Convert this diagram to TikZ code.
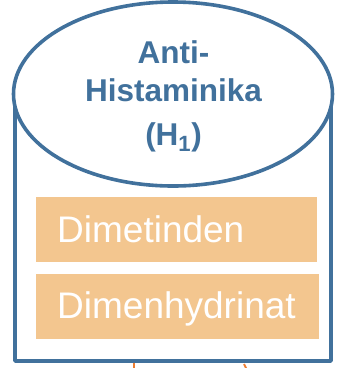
\documentclass[tikz,border=0pt]{standalone}
\usepackage{fontspec}
\usetikzlibrary{shapes.geometric}
\setmainfont{Liberation Sans}
\definecolor{cylblue}{HTML}{41719C}
\definecolor{boxorange}{HTML}{F3C68F}
\definecolor{arrorange}{HTML}{ED7D31}
\begin{document}
\begin{tikzpicture}[x=1pt,y=-1pt,
  outline/.style={draw=cylblue,line width=3.6pt},
  drugbox/.style={fill=boxorange,draw=none},
  drugtext/.style={anchor=base west,inner sep=0pt,text=white,font=\fontsize{37}{44}\selectfont},
  titletext/.style={anchor=base,inner sep=0pt,text=cylblue,font=\bfseries\fontsize{31.5}{38}\selectfont}]
\useasboundingbox (0,0) rectangle (346,368);
\begin{scope}
\clip (0,0) rectangle (346,368);
\coordinate (a1s) at (134,363);
\coordinate (a1e) at (134,380);
\coordinate (a2s) at (244,364);
\coordinate (a2e) at (252,380);
\draw[arrorange,line width=1.8pt] (a1s) -- (a1e);
\draw[arrorange,line width=1.8pt] (a2s) -- (a2e);
\end{scope}
\draw[outline,fill=white,line join=round] (15,90) rectangle (331,361);
\node[outline,fill=white,ellipse,draw,minimum width=319pt,minimum height=184pt,inner sep=0pt] (top) at (173,94) {};
\node[titletext] (t1) at (173.5,63) {Anti-};
\node[titletext] (t2) at (173.5,101) {Histaminika};
\node[titletext] (t3) at (173.5,145) {(H\textsubscript{1})};
\fill[drugbox] (36,197) rectangle (317,262);
\fill[drugbox] (36,274) rectangle (319,339);
\node[drugtext] (d1) at (57,242) {Dimetinden};
\node[drugtext] (d2) at (57,318) {Dimenhydrinat};
\end{tikzpicture}
\end{document}
